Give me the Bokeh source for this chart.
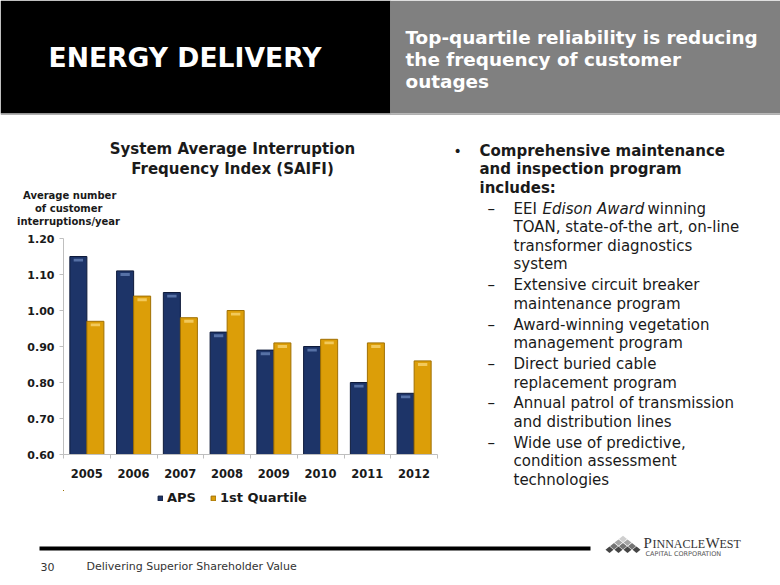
from bokeh.plotting import figure
from bokeh.layouts import column, row
from bokeh.models import (ColumnDataSource, Range1d, FixedTicker, NumeralTickFormatter,
                          CustomJSTickFormatter, Label, BoxAnnotation, PolyAnnotation,
                          Legend, LegendItem, LinearAxis, Title)
from bokeh.transform import dodge
from bokeh.embed import file_html
from bokeh.resources import INLINE

# ---------------- data ----------------
years = ["2005", "2006", "2007", "2008", "2009", "2010", "2011", "2012"]
aps = [1.15, 1.11, 1.05, 0.94, 0.89, 0.90, 0.80, 0.77]
quartile = [0.97, 1.04, 0.98, 1.00, 0.91, 0.92, 0.91, 0.86]
y_ticks = [0.60, 0.70, 0.80, 0.90, 1.00, 1.10, 1.20]
series_names = ["APS", "1st Quartile"]

title_lines = ["System Average Interruption", "Frequency Index (SAIFI)"]
ylabel_lines = ["Average number", "of customer", "interruptions/year"]
header_left = "ENERGY DELIVERY"
header_right = ["Top-quartile reliability is reducing", "the frequency of customer", "outages"]
bullet_lines = ["Comprehensive maintenance", "and inspection program", "includes:"]
sub_items = [
    ["EEI|Edison Award|winning", "TOAN, state-of-the art, on-line", "transformer diagnostics", "system"],
    ["Extensive circuit breaker", "maintenance program"],
    ["Award-winning vegetation", "management program"],
    ["Direct buried cable", "replacement program"],
    ["Annual patrol of transmission", "and distribution lines"],
    ["Wide use of predictive,", "condition assessment", "technologies"],
]
footer_page = "30"
footer_text = "Delivering Superior Shareholder Value"

# ---------------- layout (reference pixel space) ----------------
FONT = "DejaVu Sans"
DARK = "#1a1a1a"
NAVY, NAVY_LINE, NAVY_HL = "#1D3468", "#0E1A3A", "#6F8CC0"
GOLD, GOLD_LINE, GOLD_HL = "#DC9E08", "#A07003", "#F7D370"

CH_Y0, CH_H, CH_W = 182, 308, 440
FL, FR, FT, FB = 63, 437, 238, 454


def deco(x0, y0, w, h, bl=0, br=0):
    f = figure(width=w, height=h, x_range=Range1d(x0 + bl, x0 + w - br), y_range=Range1d(y0 + h, y0),
               x_axis_type=None, y_axis_type=None, toolbar_location=None, output_backend="svg",
               min_border_left=bl, min_border_right=br, min_border_top=0, min_border_bottom=0,
               title_location=None)
    f.outline_line_color = None
    f.grid.visible = False
    f.background_fill_color = "white"
    f.border_fill_color = "white"
    return f


def box(f, l, r, t, b, color):
    f.add_layout(BoxAnnotation(left=l, right=r, top=t, bottom=b, fill_color=color, fill_alpha=1,
                               line_color=None))


def txt(f, x, y, s, size, color=DARK, style="normal", align="left", font=FONT):
    f.add_layout(Label(x=x, y=y, text=s, text_font=font, text_font_size=size,
                       text_font_style=style, text_color=color, text_align=align,
                       text_baseline="middle"))


# ---- header ----
hdr = deco(0, 0, 780, 115)
box(hdr, 0, 390, 0, 113, "#000000")
box(hdr, 390, 780, 0, 113, "#808080")
box(hdr, 0, 780, 113, 115, "#B0B0B0")
txt(hdr, 48, 57, header_left, "26.6px", "white", "bold")
for i, s in enumerate(header_right):
    txt(hdr, 405, 37 + i * 22, s, "18.4px", "white", "bold")

# ---- chart title (frame aligned with the chart frame) ----
ttl = deco(0, 115, CH_W, CH_Y0 - 115, FL, CH_W - FR)
for i, s in enumerate(title_lines):
    txt(ttl, 232, 148 + i * 20, s, "15px", DARK, "bold", "center")

# ---- chart ----
n = len(years)
src = ColumnDataSource(dict(
    idx=[i + 0.5 for i in range(n)],
    aps=aps, quartile=quartile,
    aps_h1=[v - 0.006 for v in aps], aps_h0=[v - 0.014 for v in aps],
    q_h1=[v - 0.006 for v in quartile], q_h0=[v - 0.014 for v in quartile],
))
p = figure(width=CH_W, height=CH_H, output_backend="svg", toolbar_location=None,
           x_range=Range1d(0, n), y_range=Range1d(y_ticks[0], y_ticks[-1]),
           x_axis_type=None, y_axis_type=None, title_location=None,
           min_border_left=FL, min_border_right=CH_W - FR,
           min_border_top=FT - CH_Y0, min_border_bottom=CH_Y0 + CH_H - FB)
p.outline_line_color = None
p.grid.visible = False
p.background_fill_color = "white"
p.border_fill_color = "white"

# spacer between the frame and the y-axis caption
p.add_layout(Title(text="\u00a0", text_font=FONT, text_font_size="9px", standoff=0), "above")
# y-axis caption: three centred lines above the value axis (closest line added first)
ylabel_widths = [91, 67, 103]
for i in reversed(range(len(ylabel_lines))):
    p.add_layout(Title(text=ylabel_lines[i], align="left", offset=68 - FL - ylabel_widths[i] / 2,
                       text_font=FONT, text_font_style="bold", text_font_size="10px",
                       text_color=DARK, standoff=0), "above")

base = y_ticks[0]
bw, off = 0.364, 0.182
p.vbar(x=dodge("idx", -off), top="aps", bottom=base, width=bw,
       source=src, fill_color=NAVY, line_color=NAVY_LINE, line_width=1)
p.vbar(x=dodge("idx", off), top="quartile", bottom=base, width=bw,
       source=src, fill_color=GOLD, line_color=GOLD_LINE, line_width=1)
p.vbar(x=dodge("idx", -off), top="aps_h1", bottom="aps_h0", width=0.2,
       source=src, fill_color=NAVY_HL, fill_alpha=0.7, line_color=None)
p.vbar(x=dodge("idx", off), top="q_h1", bottom="q_h0", width=0.2,
       source=src, fill_color=GOLD_HL, fill_alpha=0.8, line_color=None)

yaxis = LinearAxis(ticker=FixedTicker(ticks=y_ticks), formatter=NumeralTickFormatter(format="0.00"),
                   axis_line_color="#BFBFBF", major_tick_line_color="#BFBFBF",
                   major_tick_out=4, major_tick_in=0, minor_tick_line_color=None,
                   major_label_text_font=FONT, major_label_text_font_style="bold",
                   major_label_text_font_size="11px", major_label_text_color=DARK,
                   major_label_standoff=5)
p.add_layout(yaxis, "left")

xaxis = LinearAxis(ticker=FixedTicker(ticks=[i + 0.5 for i in range(n)], minor_ticks=list(range(n + 1))),
                   formatter=CustomJSTickFormatter(args=dict(labels=years),
                       code="const i = Math.floor(tick); return (i >= 0 && i < labels.length) ? labels[i] : '';"),
                   axis_line_color="#BFBFBF", major_tick_line_color=None, major_tick_out=0, major_tick_in=0,
                   minor_tick_line_color="#BFBFBF", minor_tick_out=4, minor_tick_in=0,
                   major_label_text_font=FONT, major_label_text_font_style="bold",
                   major_label_text_font_size="11.5px", major_label_text_color=DARK,
                   major_label_standoff=10)
p.add_layout(xaxis, "below")

# ---- legend (own small canvas under the chart; its bars fall outside its view) ----
LEG_Y0 = CH_Y0 + CH_H
leg = deco(0, LEG_Y0, CH_W, 530 - LEG_Y0, FL, CH_W - FR)
la = leg.vbar(x="idx", top="aps", bottom=base, width=bw, source=src, fill_color=NAVY, line_color=NAVY_LINE)
lq = leg.vbar(x="idx", top="quartile", bottom=base, width=bw, source=src, fill_color=GOLD, line_color=GOLD_LINE)
legend = Legend(items=[LegendItem(label=series_names[0], renderers=[la]),
                       LegendItem(label=series_names[1], renderers=[lq])],
                orientation="horizontal", location=(157 - FL, 25), glyph_width=6, glyph_height=6,
                label_height=14, label_standoff=4, spacing=14, padding=0, margin=0,
                border_line_color=None, background_fill_alpha=0,
                label_text_font=FONT, label_text_font_style="bold",
                label_text_font_size="13px", label_text_color=DARK)
leg.add_layout(legend)

# ---- bullets ----
bul = deco(440, 115, 340, 415)
txt(bul, 453, 150, "\u2022", "14px", DARK)
for i, s in enumerate(bullet_lines):
    txt(bul, 479, 150 + i * 18.5, s, "15px", DARK, "bold")
y = 208
for item in sub_items:
    txt(bul, 487, y, "\u2013", "15px", DARK)
    for s in item:
        if "|" in s:
            a, b, c = s.split("|")
            txt(bul, 513, y, a, "15px")
            txt(bul, 542, y, b, "15px", DARK, "italic")
            txt(bul, 647, y, c, "15px")
        else:
            txt(bul, 513, y, s, "15px")
        y += 18.6
    y += 2.2

# ---- footer ----
ftr = deco(0, 530, 780, 55)
box(ftr, 39, 590, 546, 550, "#000000")
txt(ftr, 40, 566, footer_page, "11px", "#333333")
txt(ftr, 86, 566, footer_text, "11px", "#333333")
shades = ["#cfcfcf", "#a5a5a5", "#737373", "#454545"]
for r in range(4):
    for k in range(r + 1):
        cx = 622.5 + (k - r / 2) * 9
        cy = 538.5 + r * 3.6
        hw, hh = 4.0, 3.2
        ftr.add_layout(PolyAnnotation(xs=[cx - hw, cx, cx + hw, cx], ys=[cy, cy - hh, cy, cy + hh],
                                      fill_color=shades[r], fill_alpha=1, line_color=None))
txt(ftr, 643, 542, "P", "15px", "#333333", font="Liberation Serif")
txt(ftr, 652, 543, "INNACLE", "12px", "#333333", font="Liberation Serif")
txt(ftr, 705, 542, "W", "15px", "#333333", font="Liberation Serif")
txt(ftr, 719, 543, "EST", "12px", "#333333", font="Liberation Serif")
txt(ftr, 645, 553, "CAPITAL CORPORATION", "6.5px", "#555555")

layout = column(hdr, row(column(ttl, p, leg), bul), ftr)
open("out.html", "w").write(file_html(layout, INLINE))
